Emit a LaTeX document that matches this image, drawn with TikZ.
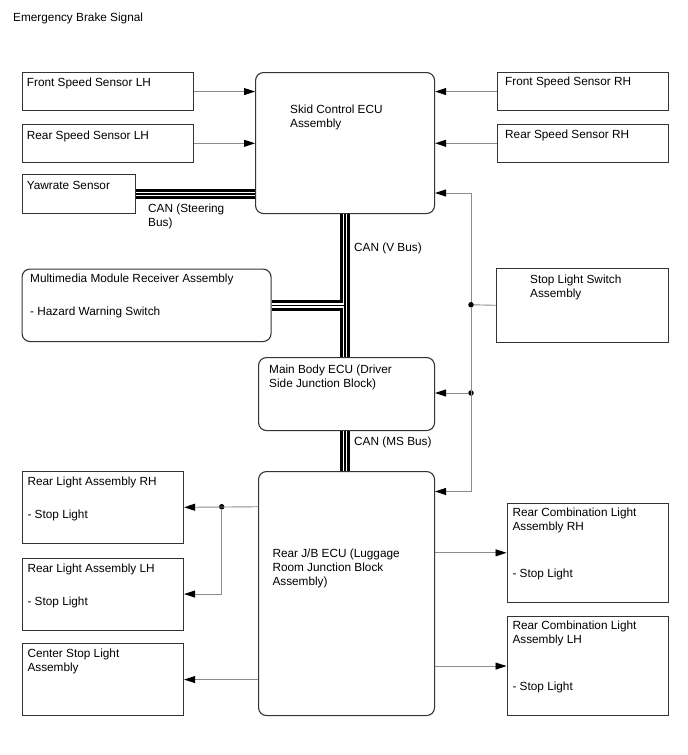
\documentclass[tikz,border=0pt]{standalone}
\usepackage{fontspec}
\setmainfont{Liberation Sans}
\usetikzlibrary{arrows.meta}

\begin{document}
\begin{tikzpicture}[x=1pt, y=-1pt,
  every node/.style={font=\fontsize{11.8}{14}\selectfont},
  box/.style={draw=black!80, line width=1.1pt, anchor=north west, inner sep=0pt},
  ecu/.style={box, rounded corners=8pt},
  txt/.style={anchor=base west, align=left, inner sep=0pt},
  sig/.style={draw=black!45, line width=0.9pt},
  arr/.style={sig, -{Triangle[length=11pt,width=7pt,color=black]}},
  can/.style={draw=white, line width=4.5pt, preaction={draw=black, line width=10.5pt}, postaction={draw=black, line width=1.5pt}},
  dot/.style={circle, fill=black, inner sep=0pt, minimum size=5.5pt}]
\useasboundingbox (0,0) rectangle (688,755);
\node[txt] (title) at (13,21) {Emergency Brake Signal};
% boxes
\node[box, minimum width=171.5pt, minimum height=38pt] (fsl) at (21.5,72) {};
\node[box, minimum width=171.5pt, minimum height=38.5pt] (rsl) at (21.5,123.5) {};
\node[box, minimum width=113.5pt, minimum height=39pt] (yaw) at (21.5,174) {};
\node[ecu, minimum width=179pt, minimum height=141pt] (skid) at (255,72) {};
\node[box, minimum width=171pt, minimum height=38pt] (fsr) at (496.5,72) {};
\node[box, minimum width=171pt, minimum height=37.5pt] (rsr) at (496.5,124) {};
\node[ecu, minimum width=249pt, minimum height=72.5pt] (mm) at (21.5,268.5) {};
\node[box, minimum width=171.5pt, minimum height=73.5pt] (sls) at (496,268) {};
\node[ecu, minimum width=176pt, minimum height=73pt] (main) at (258,357) {};
\node[ecu, minimum width=176pt, minimum height=244pt] (rj) at (258,471) {};
\node[box, minimum width=161.5pt, minimum height=71.5pt] (rlr) at (21.5,471) {};
\node[box, minimum width=161.5pt, minimum height=72pt] (rll) at (21.5,557.5) {};
\node[box, minimum width=161.5pt, minimum height=72pt] (csl) at (21.5,643) {};
\node[box, minimum width=161pt, minimum height=99.5pt] (rcr) at (506.5,502.5) {};
\node[box, minimum width=161pt, minimum height=99pt] (rcl) at (506.5,616) {};
% texts (placed at the baseline of the last line)
\node[txt] (fsltxt) at (26.7,86.3) {Front Speed Sensor LH};
\node[txt] (rsltxt) at (26.7,139) {Rear Speed Sensor LH};
\node[txt] (yawtxt) at (26.7,189) {Yawrate Sensor};
\node[txt] (skidtxt) at (290,127.7) {Skid Control ECU\\Assembly};
\node[txt] (fsrtxt) at (505,85.3) {Front Speed Sensor RH};
\node[txt] (rsrtxt) at (505,138.7) {Rear Speed Sensor RH};
\node[txt] (mmtxt) at (30,315.7) {Multimedia Module Receiver Assembly\\[19pt]- Hazard Warning Switch};
\node[txt] (slstxt) at (530,297) {Stop Light Switch\\Assembly};
\node[txt] (maintxt) at (269,387.3) {Main Body ECU (Driver\\Side Junction Block)};
\node[txt] (rjtxt) at (272.3,585) {Rear J/B ECU (Luggage\\Room Junction Block\\Assembly)};
\node[txt] (rlrtxt) at (27.3,518.3) {Rear Light Assembly RH\\[19pt]- Stop Light};
\node[txt] (rlltxt) at (27.3,605.7) {Rear Light Assembly LH\\[19pt]- Stop Light};
\node[txt] (csltxt) at (27.3,671.7) {Center Stop Light\\Assembly};
\node[txt] (rcrtxt) at (512.3,577) {Rear Combination Light\\Assembly RH\\[33pt]- Stop Light};
\node[txt] (rcltxt) at (512.3,690.3) {Rear Combination Light\\Assembly LH\\[33pt]- Stop Light};
\node[txt] (canst) at (148,226.7) {CAN (Steering\\Bus)};
\node[txt] (canv) at (354,251) {CAN (V Bus)};
\node[txt] (canms) at (354,445.3) {CAN (MS Bus)};
% buses
\draw[can] (yaw.east) -- (yaw.east -| skid.west);
\draw[can] (skid.south) -- (skid.south |- main.north)
  (mm.east) -- (mm.east -| skid.south);
\draw[can] (skid.south |- main.south) -- (skid.south |- rj.north);
% signal lines
\draw[arr] (fsl.east) -- (fsl.east -| skid.west);
\draw[arr] (rsl.east) -- (rsl.east -| skid.west);
\draw[arr] (fsr.west) -- (fsr.west -| skid.east);
\draw[arr] (rsr.west) -- (rsr.west -| skid.east);
\node[dot] (j1) at (471,304.75) {};
\node[dot] (j2) at (471,393) {};
\coordinate (t1) at (471,193);
\coordinate (t3) at (471,491.5);
\draw[sig] (sls.west) -- (j1);
\draw[arr] (j1) -- (t1) -- (t1 -| skid.east);
\draw[arr] (j2) -- (j2 -| main.east);
\draw[arr] (j1) -- (t3) -- (t3 -| rj.east);
\node[dot] (j3) at (221.7,506.75) {};
\draw[arr] (j3 -| rj.west) -- (rlr.east);
\draw[arr] (j3) |- (rll.east);
\draw[arr] (csl.east -| rj.west) -- (csl.east);
\draw[arr] (rcr.west -| rj.east) -- (rcr.west);
\draw[arr] (rcl.west -| rj.east) -- (rcl.west);
\end{tikzpicture}
\end{document}
